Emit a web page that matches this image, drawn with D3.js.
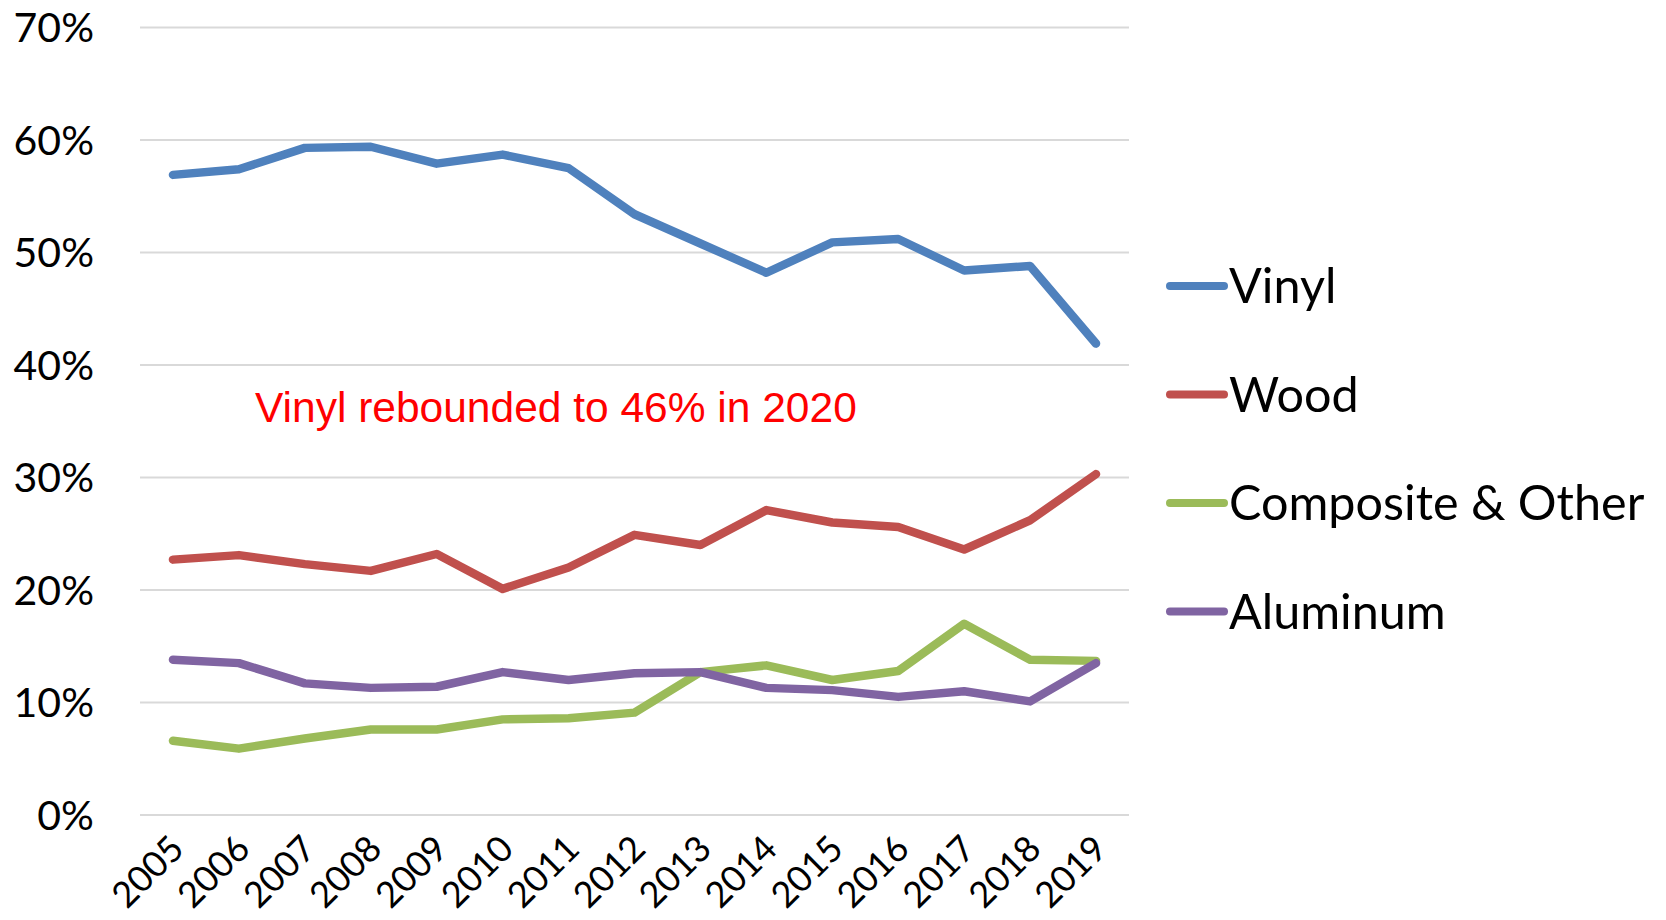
<!DOCTYPE html>
<html>
<head>
<meta charset="utf-8">
<script src="https://cdn.jsdelivr.net/npm/d3@7"></script>
<style>
  body { margin: 0; background: #fff; }
  svg { display: block; }
</style>
</head>
<body>
<div id="chart"></div>
<script>
const years = ["2005","2006","2007","2008","2009","2010","2011","2012","2013","2014","2015","2016","2017","2018","2019"];
const vinyl     = [56.9, 57.4, 59.3, 59.4, 57.9, 58.7, 57.5, 53.4, 50.8, 48.2, 50.9, 51.2, 48.4, 48.8, 41.9];
const wood      = [22.7, 23.1, 22.3, 21.7, 23.2, 20.1, 22.0, 24.9, 24.0, 27.1, 26.0, 25.6, 23.6, 26.2, 30.3];
const composite = [6.6, 5.9, 6.8, 7.6, 7.6, 8.5, 8.6, 9.1, 12.7, 13.3, 12.0, 12.8, 17.0, 13.8, 13.7];
const aluminum  = [13.8, 13.5, 11.7, 11.3, 11.4, 12.7, 12.0, 12.6, 12.7, 11.3, 11.1, 10.5, 11.0, 10.1, 13.5];
const seriesNames = ["Vinyl", "Wood", "Composite & Other", "Aluminum"];
const yTicks = [0, 10, 20, 30, 40, 50, 60, 70];
const note = "Vinyl rebounded to 46% in 2020";

const series = [
  {name: seriesNames[0], values: vinyl, color: "#4F81BD"},
  {name: seriesNames[1], values: wood, color: "#C0504D"},
  {name: seriesNames[2], values: composite, color: "#9BBB59"},
  {name: seriesNames[3], values: aluminum, color: "#8064A2"}
];

const W = 1666, H = 920;
const plot = {left: 140, right: 1129, top: 27.5, bottom: 815};

const svg = d3.select("#chart").append("svg")
    .attr("width", W)
    .attr("height", H);

const x = d3.scaleBand().domain(years).range([plot.left, plot.right]);
const y = d3.scaleLinear().domain([0, 70]).range([plot.bottom, plot.top]);

// gridlines
svg.append("g")
  .selectAll("line")
  .data(yTicks)
  .join("line")
    .attr("x1", plot.left)
    .attr("x2", plot.right)
    .attr("y1", d => y(d))
    .attr("y2", d => y(d))
    .attr("stroke", "#d9d9d9")
    .attr("stroke-width", 2);

// y labels
svg.append("g")
  .selectAll("text")
  .data(yTicks)
  .join("text")
    .attr("x", 94)
    .attr("y", d => y(d))
    .attr("dy", "0.36em")
    .attr("text-anchor", "end")
    .attr("font-family", "Lato, sans-serif")
    .attr("font-size", 41)
    .attr("fill", "#000")
    .text(d => d + "%");

// x labels, rotated
svg.append("g")
  .selectAll("text")
  .data(years)
  .join("text")
    .attr("transform", d => "translate(" + (x(d) + x.bandwidth() / 2 + 13) + "," + 851 + ") rotate(-45)")
    .attr("text-anchor", "end")
    .attr("font-family", "Lato, sans-serif")
    .attr("font-size", 36)
    .attr("fill", "#000")
    .text(d => d);

const line = d3.line()
    .x((d, i) => x(years[i]) + x.bandwidth() / 2)
    .y(d => y(d));

svg.append("g")
  .selectAll("path")
  .data(series)
  .join("path")
    .attr("d", d => line(d.values))
    .attr("fill", "none")
    .attr("stroke", d => d.color)
    .attr("stroke-width", 8.5)
    .attr("stroke-linejoin", "round")
    .attr("stroke-linecap", "round");

// annotation
svg.append("text")
    .attr("x", 255)
    .attr("y", 422)
    .attr("font-family", "Liberation Sans, Arial, sans-serif")
    .attr("font-size", 42.5)
    .attr("fill", "#ff0000")
    .text(note);

// legend
const legend = svg.append("g")
  .selectAll("g")
  .data(series)
  .join("g")
    .attr("transform", (d, i) => "translate(1170," + (286 + i * 108.5) + ")");

legend.append("line")
    .attr("x1", 0)
    .attr("x2", 54)
    .attr("stroke", d => d.color)
    .attr("stroke-width", 8)
    .attr("stroke-linecap", "round");

legend.append("text")
    .attr("x", 59)
    .attr("dy", "0.36em")
    .attr("font-family", "Lato, sans-serif")
    .attr("font-size", 48.5)
    .attr("fill", "#000")
    .text(d => d.name);
</script>
</body>
</html>
